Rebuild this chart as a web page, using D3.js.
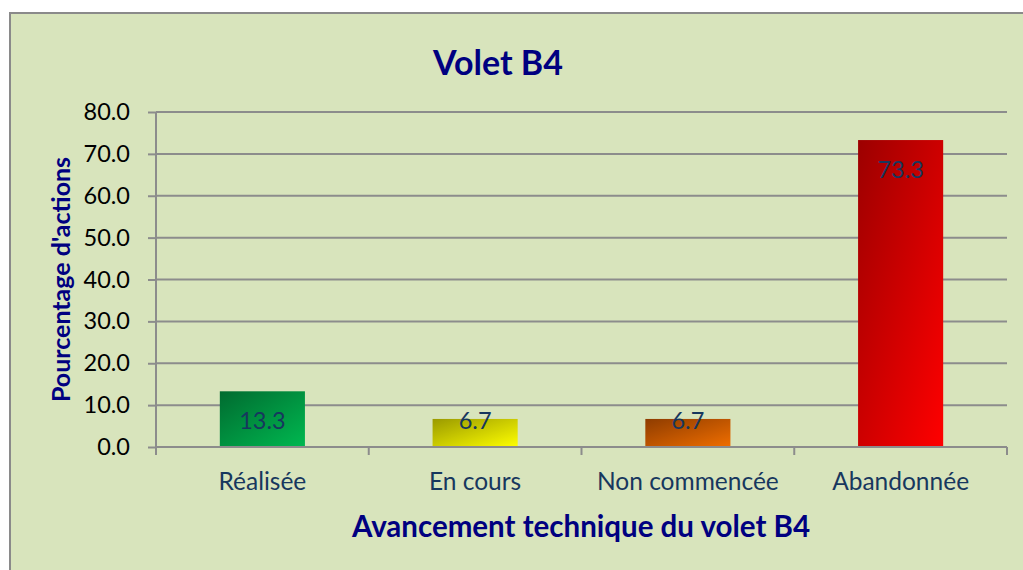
<!DOCTYPE html>
<html>
<head>
<meta charset="utf-8">
<script src="https://cdn.jsdelivr.net/npm/d3@7"></script>
<style>
  body { margin: 0; background: #fff; }
  svg { display: block; }
</style>
</head>
<body>
<svg id="chart"></svg>
<script>
// data
var categories = ['Réalisée', 'En cours', 'Non commencée', 'Abandonnée']
var values = [13.3, 6.7, 6.7, 73.3]
var yTicks = [0, 10, 20, 30, 40, 50, 60, 70, 80]
// gradient stops per bar (dark top-left -> bright bottom-right)
var darkColors = ['#006b30', '#9a9a00', '#8e3c00', '#9c0000']
var lightColors = ['#00b850', '#ffff00', '#f06e00', '#ff0000']

var width = 1023, height = 570
var margin = { left: 156, right: 16, top: 112, bottom: 123 }
var plotW = width - margin.left - margin.right
var plotH = height - margin.top - margin.bottom

var font = 'Lato, "Open Sans", sans-serif'
var navy = '#000080'
var labelBlue = '#17375e'
var gridColor = '#8c8c8c'

var svg = d3.select('#chart').attr('width', width).attr('height', height)

// frame
svg.append('rect')
  .attr('x', 10).attr('y', 13)
  .attr('width', width + 20).attr('height', height + 20)
  .attr('fill', '#d8e4bc')
  .attr('stroke', '#8a8a8a').attr('stroke-width', 2)

var defs = svg.append('defs')
categories.forEach(function (c, i) {
  var g = defs.append('linearGradient')
    .attr('id', 'grad' + i)
    .attr('x1', '0%').attr('y1', '0%').attr('x2', '100%').attr('y2', '100%')
  g.append('stop').attr('offset', '0%').attr('stop-color', darkColors[i])
  g.append('stop').attr('offset', '100%').attr('stop-color', lightColors[i])
})

var x = d3.scaleBand().domain(categories).range([0, plotW]).paddingInner(0.6).paddingOuter(0.3)
var y = d3.scaleLinear().domain([0, 80]).range([plotH, 0])

var g = svg.append('g').attr('transform', 'translate(' + margin.left + ',' + margin.top + ')')

// gridlines
g.selectAll('.grid').data(yTicks).enter().append('line')
  .attr('x1', 0).attr('x2', plotW)
  .attr('y1', function (d) { return y(d) }).attr('y2', function (d) { return y(d) })
  .attr('stroke', gridColor).attr('stroke-width', 2)

// y axis
var yAxis = g.append('g')
  .call(d3.axisLeft(y).tickValues(yTicks).tickFormat(d3.format('.1f')).tickSize(8).tickPadding(18))
yAxis.select('.domain').attr('stroke', gridColor).attr('stroke-width', 2).attr('d', 'M0,' + plotH + 'V0')
yAxis.selectAll('.tick line').attr('stroke', gridColor).attr('stroke-width', 2)
yAxis.selectAll('.tick text')
  .attr('font-family', font).attr('font-size', 23.5).attr('fill', '#000')

// bars
g.selectAll('.bar').data(values).enter().append('rect')
  .attr('x', function (d, i) { return x(categories[i]) })
  .attr('y', function (d) { return y(d) })
  .attr('width', x.bandwidth())
  .attr('height', function (d) { return plotH - y(d) })
  .attr('fill', function (d, i) { return 'url(#grad' + i + ')' })

// x axis
var step = plotW / categories.length
var xAxis = g.append('g').attr('transform', 'translate(0,' + plotH + ')')
xAxis.append('line').attr('x1', 0).attr('x2', plotW)
  .attr('stroke', gridColor).attr('stroke-width', 2)
d3.range(categories.length + 1).forEach(function (i) {
  xAxis.append('line')
    .attr('x1', i * step).attr('x2', i * step).attr('y1', 0).attr('y2', 8)
    .attr('stroke', gridColor).attr('stroke-width', 2)
})
xAxis.selectAll('.cat').data(categories).enter().append('text')
  .attr('x', function (d) { return x(d) + x.bandwidth() / 2 })
  .attr('y', 43)
  .attr('text-anchor', 'middle')
  .attr('font-family', font).attr('font-size', 24.5)
  .attr('fill', labelBlue)
  .text(function (d) { return d })

// data labels
g.selectAll('.val').data(values).enter().append('text')
  .attr('x', function (d, i) { return x(categories[i]) + x.bandwidth() / 2 })
  .attr('y', function (d) { return Math.min(y(d) + 29.5, plotH - 26) })
  .attr('dy', '0.35em')
  .attr('text-anchor', 'middle')
  .attr('font-family', font).attr('font-size', 23.5)
  .attr('fill', labelBlue)
  .text(function (d) { return d3.format('.1f')(d) })

// titles
svg.append('text')
  .attr('x', 498).attr('y', 75)
  .attr('text-anchor', 'middle')
  .attr('font-family', font).attr('font-weight', 'bold').attr('font-size', 34)
  .attr('fill', navy)
  .text('Volet B4')

svg.append('text')
  .attr('transform', 'translate(70,' + (margin.top + plotH / 2) + ') rotate(-90)')
  .attr('text-anchor', 'middle')
  .attr('font-family', font).attr('font-weight', 'bold').attr('font-size', 25)
  .attr('fill', navy)
  .text("Pourcentage d'actions")

svg.append('text')
  .attr('x', 581).attr('y', 537)
  .attr('text-anchor', 'middle')
  .attr('font-family', font).attr('font-weight', 'bold').attr('font-size', 29.5)
  .attr('fill', navy)
  .text('Avancement technique du volet B4')
</script>
</body>
</html>
